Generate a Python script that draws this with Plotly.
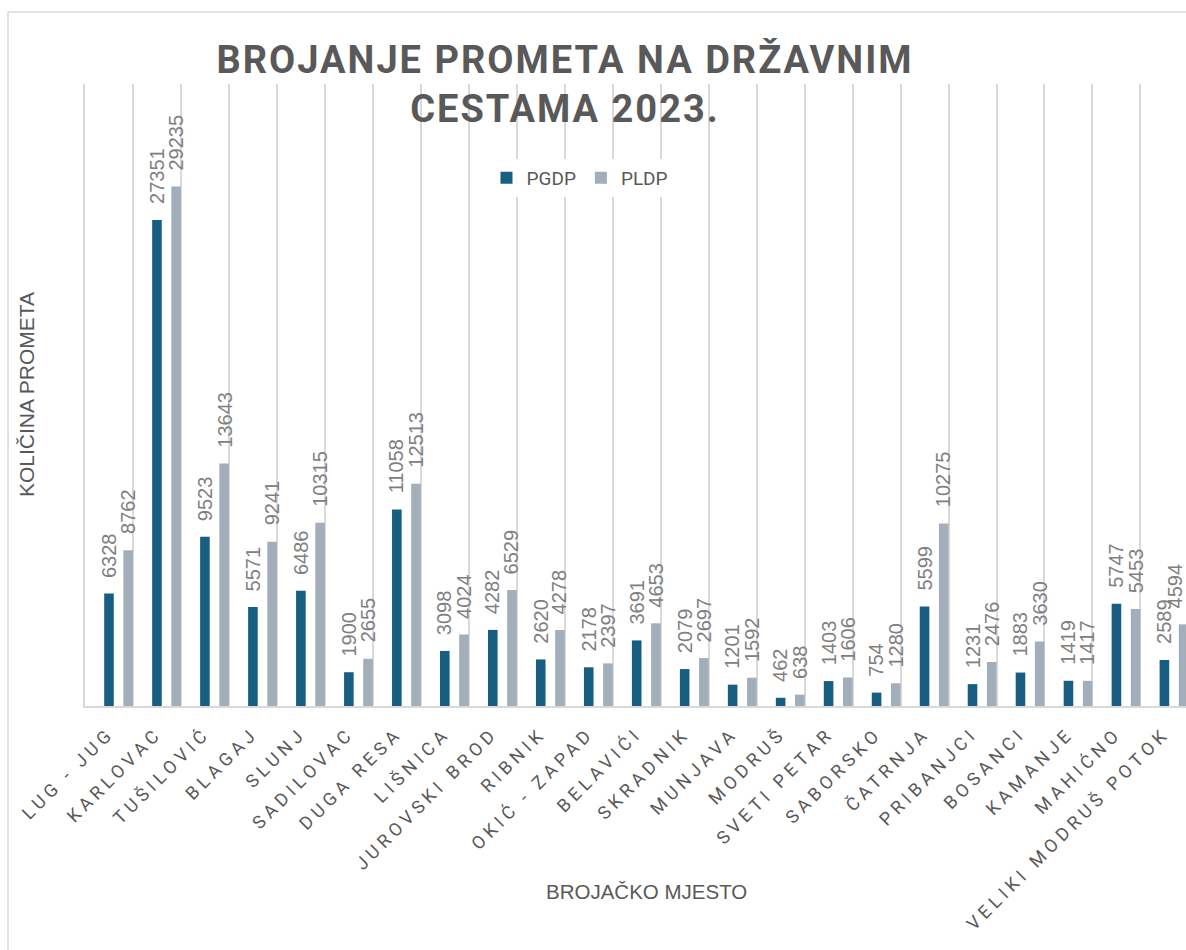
import plotly.graph_objects as go

categories = ["LUG - JUG", "KARLOVAC", "TUŠILOVIĆ", "BLAGAJ", "SLUNJ", "SADILOVAC",
              "DUGA RESA", "LIŠNICA", "JUROVSKI BROD", "RIBNIK", "OKIĆ - ZAPAD",
              "BELAVIĆI", "SKRADNIK", "MUNJAVA", "MODRUŠ", "SVETI PETAR", "SABORSKO",
              "ČATRNJA", "PRIBANJCI", "BOSANCI", "KAMANJE", "MAHIĆNO",
              "VELIKI MODRUŠ POTOK"]
pgdp = [6328, 27351, 9523, 5571, 6486, 1900, 11058, 3098, 4282, 2620, 2178, 3691,
        2079, 1201, 462, 1403, 754, 5599, 1231, 1883, 1419, 5747, 2589]
pldp = [8762, 29235, 13643, 9241, 10315, 2655, 12513, 4024, 6529, 4278, 2397, 4653,
        2697, 1592, 638, 1606, 1280, 10275, 2476, 3630, 1417, 5453, 4594]
series_names = ["PGDP", "PLDP"]
title_text = "BROJANJE PROMETA NA DRŽAVNIM<br>CESTAMA 2023."
x_title = "BROJAČKO MJESTO"
y_title = "KOLIČINA PROMETA"

W, H = 1186, 950
L, T, B = 85, 84, 244
plot_w = W - L
cat_px = plot_w / 22.95

c1, c2 = "#175e82", "#a2aeb9"
gray_txt = "#595959"
lbl_col = "#808080"

fig = go.Figure()
fig.add_trace(go.Bar(x=categories, y=pgdp, name=series_names[0], marker_color=c1,
                     offset=-0.1, width=0.2, marker_line_width=0))
fig.add_trace(go.Bar(x=categories, y=pldp, name=series_names[1], marker_color=c2,
                     offset=0.3, width=0.2, marker_line_width=0))

lbl_font = dict(family="Liberation Sans", size=20, color=lbl_col)
annotations = []
for cat, v in zip(categories, pgdp):
    annotations.append(dict(x=cat, y=v, text=str(v), showarrow=False, textangle=-90,
                            xanchor="center", yanchor="bottom", yshift=14, font=lbl_font))
for i, (cat, v) in enumerate(zip(categories, pldp)):
    # keep the last label inside the chart area, as the reference does
    nudge = -9 if i == len(categories) - 1 else 0
    annotations.append(dict(x=cat, y=v, text=str(v), showarrow=False, textangle=-90,
                            xanchor="center", yanchor="bottom", yshift=14,
                            xshift=0.4 * cat_px + nudge, font=lbl_font))

pw = plot_w
ph = H - T - B


def to_paper(px, py):
    return (px - L) / pw, (H - B - py) / ph


ax_, ay_ = to_paper(646, 892)
annotations.append(dict(x=ax_, y=ay_, xref="paper", yref="paper", text=x_title,
                        showarrow=False, xanchor="center", yanchor="middle",
                        font=dict(family="Liberation Sans", size=20.5, color=gray_txt)))
ax_, ay_ = to_paper(26, 395)
annotations.append(dict(x=ax_, y=ay_, xref="paper", yref="paper", text=y_title,
                        showarrow=False, xanchor="center", yanchor="middle", textangle=-90,
                        font=dict(family="Liberation Sans", size=21, color=gray_txt)))

shapes = [
    dict(type="line", xref="paper", yref="paper", x0=(8 - L) / pw, x1=(8 - L) / pw,
         y0=(H - B - 960) / ph, y1=(H - B - 12) / ph, line=dict(color="#d9d9d9", width=1.5),
         layer="below"),
    dict(type="line", xref="paper", yref="paper", x0=(8 - L) / pw, x1=(1200 - L) / pw,
         y0=(H - B - 12) / ph, y1=(H - B - 12) / ph, line=dict(color="#d9d9d9", width=1.5),
         layer="below"),
]

fig.update_layout(
    width=W, height=H,
    margin=dict(l=L, r=0, t=T, b=B, autoexpand=False),
    paper_bgcolor="white", plot_bgcolor="white",
    barmode="group",
    title=dict(text=title_text, x=565 / W, xanchor="center", xref="container",
               y=1 - 73 / H, yanchor="top", yref="container",
               font=dict(family="Roboto", size=38, color=gray_txt, weight="bold")),
    legend=dict(orientation="h", x=580 / W, xanchor="center", y=1 - 159 / H, yanchor="top",
                xref="container", yref="container",
                font=dict(family="Roboto", size=19, color=gray_txt)),
    xaxis=dict(range=[-0.5, 22.45], tickson="boundaries", showgrid=True,
               gridcolor="#d9d9d9", gridwidth=1.5, showline=True, linecolor="#d9d9d9",
               linewidth=1.5, ticks="", tickangle=-45, ticklabelstandoff=8,
               tickfont=dict(family="Roboto", size=18, color=gray_txt), fixedrange=True),
    yaxis=dict(range=[0, 35000], showgrid=False, showticklabels=False, ticks="",
               zeroline=False, showline=True, linecolor="#d9d9d9", linewidth=1.5),
    annotations=annotations,
    shapes=shapes,
    showlegend=True,
)

post = """
var gd = document.getElementById('{plot_id}');
gd.querySelectorAll('.gtitle').forEach(function(t){t.style.letterSpacing='2px';});
gd.querySelectorAll('.xtick text').forEach(function(t){t.style.letterSpacing='4.5px';});
"""
fig.write_html("out.html", post_script=post)
